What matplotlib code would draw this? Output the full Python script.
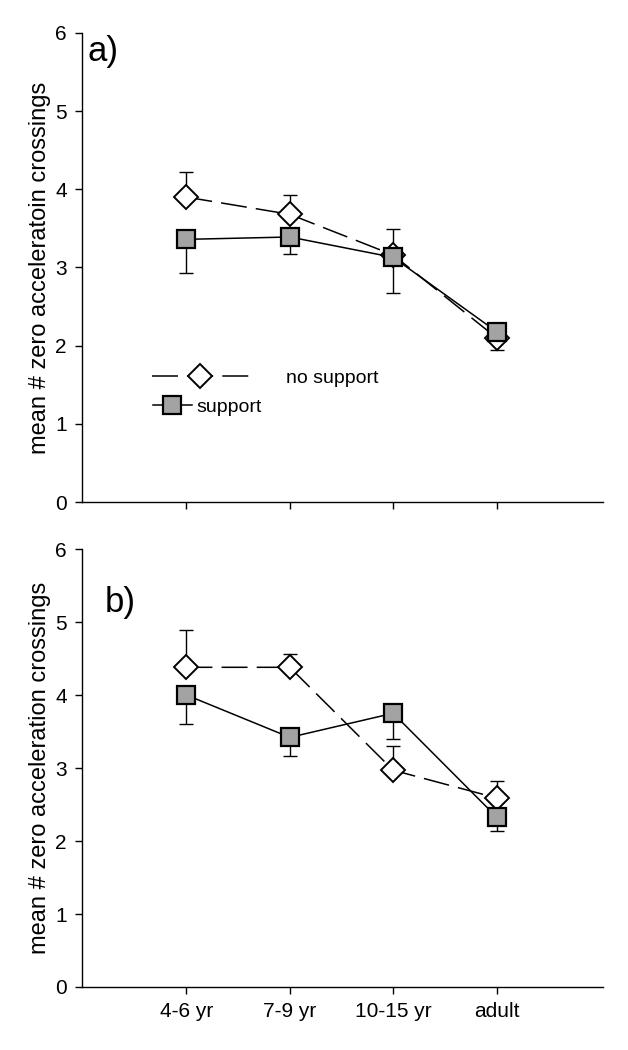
import matplotlib
matplotlib.use('Agg')
import matplotlib.pyplot as plt
from matplotlib.lines import Line2D

plt.rcParams['font.family'] = ['Liberation Sans', 'DejaVu Sans']

groups = ['4-6 yr', '7-9 yr', '10-15 yr', 'adult']
xpos = [1, 2, 3, 4]

# panel a
a_nosup = [3.90, 3.68, 3.16, 2.10]
a_nosup_err = [0.32, 0.25, 0.33, 0.05]
a_sup = [3.36, 3.39, 3.13, 2.18]
a_sup_err = [0.43, 0.22, 0.46, 0.24]

# panel b
b_nosup = [4.38, 4.38, 2.97, 2.59]
b_nosup_err = [0.51, 0.18, 0.33, 0.23]
b_sup = [4.00, 3.42, 3.75, 2.33]
b_sup_err = [0.40, 0.26, 0.35, 0.19]

grey = '#a3a3a3'
lw = 1.1
dash = (17, 6)

fig = plt.figure(figsize=(6.28, 10.5), dpi=100)
ax1 = fig.add_axes([0.1306, 0.5219, 0.8296, 0.4467])
ax2 = fig.add_axes([0.1306, 0.0600, 0.8296, 0.4171])


def draw(ax, nosup, nosup_err, sup, sup_err):
    zeros = [0] * len(xpos)
    ax.errorbar(xpos, sup, yerr=[sup_err, zeros], fmt='none', ecolor='black',
                elinewidth=1.0, capsize=5, capthick=1.0, zorder=1)
    ax.errorbar(xpos, nosup, yerr=[zeros, nosup_err], fmt='none', ecolor='black',
                elinewidth=1.0, capsize=5, capthick=1.0, zorder=1)
    ax.plot(xpos, nosup, color='black', lw=lw, dashes=dash, marker='D', ms=12,
            mfc='white', mec='black', mew=1.4, zorder=3)
    ax.plot(xpos, sup, color='black', lw=lw, marker='s', ms=13,
            mfc=grey, mec='black', mew=1.6, zorder=4)
    ax.set_xlim(-0.01, 5.03)
    ax.set_ylim(0, 6)
    ax.set_yticks([0, 1, 2, 3, 4, 5, 6])
    ax.set_xticks(xpos)
    ax.spines['top'].set_visible(False)
    ax.spines['right'].set_visible(False)
    ax.spines['left'].set_linewidth(1.0)
    ax.spines['bottom'].set_linewidth(1.0)
    ax.tick_params(direction='out', length=5, width=1.0, labelsize=15, pad=6)


draw(ax1, a_nosup, a_nosup_err, a_sup, a_sup_err)
draw(ax2, b_nosup, b_nosup_err, b_sup, b_sup_err)

ax1.set_xticklabels([])
ax2.set_xticklabels(groups)

ax1.set_ylabel('mean # zero acceleratoin crossings', fontsize=17, labelpad=3)
ax2.set_ylabel('mean # zero acceleration crossings', fontsize=17, labelpad=3)

ax1.text(0.010, 0.995, 'a)', transform=ax1.transAxes, fontsize=25, va='top', ha='left')
ax2.text(0.043, 0.915, 'b)', transform=ax2.transAxes, fontsize=25, va='top', ha='left')

h1 = Line2D([], [], color='black', lw=lw, dashes=dash, marker='D', ms=12,
            mfc='white', mec='black', mew=1.4)
h2 = Line2D([], [], color='black', lw=lw, marker='s', ms=13,
            mfc=grey, mec='black', mew=1.6)
leg1 = ax1.legend([h1], ['no support'], loc='center left', bbox_to_anchor=(0.134, 0.265),
                  frameon=False, fontsize=14, handlelength=5.0, handletextpad=1.9,
                  borderpad=0, borderaxespad=0)
ax1.add_artist(leg1)
ax1.legend([h2], ['support'], loc='center left', bbox_to_anchor=(0.136, 0.203),
           frameon=False, fontsize=14, handlelength=2.0, handletextpad=0.25,
           borderpad=0, borderaxespad=0)

fig.savefig('out.png', dpi=100)
